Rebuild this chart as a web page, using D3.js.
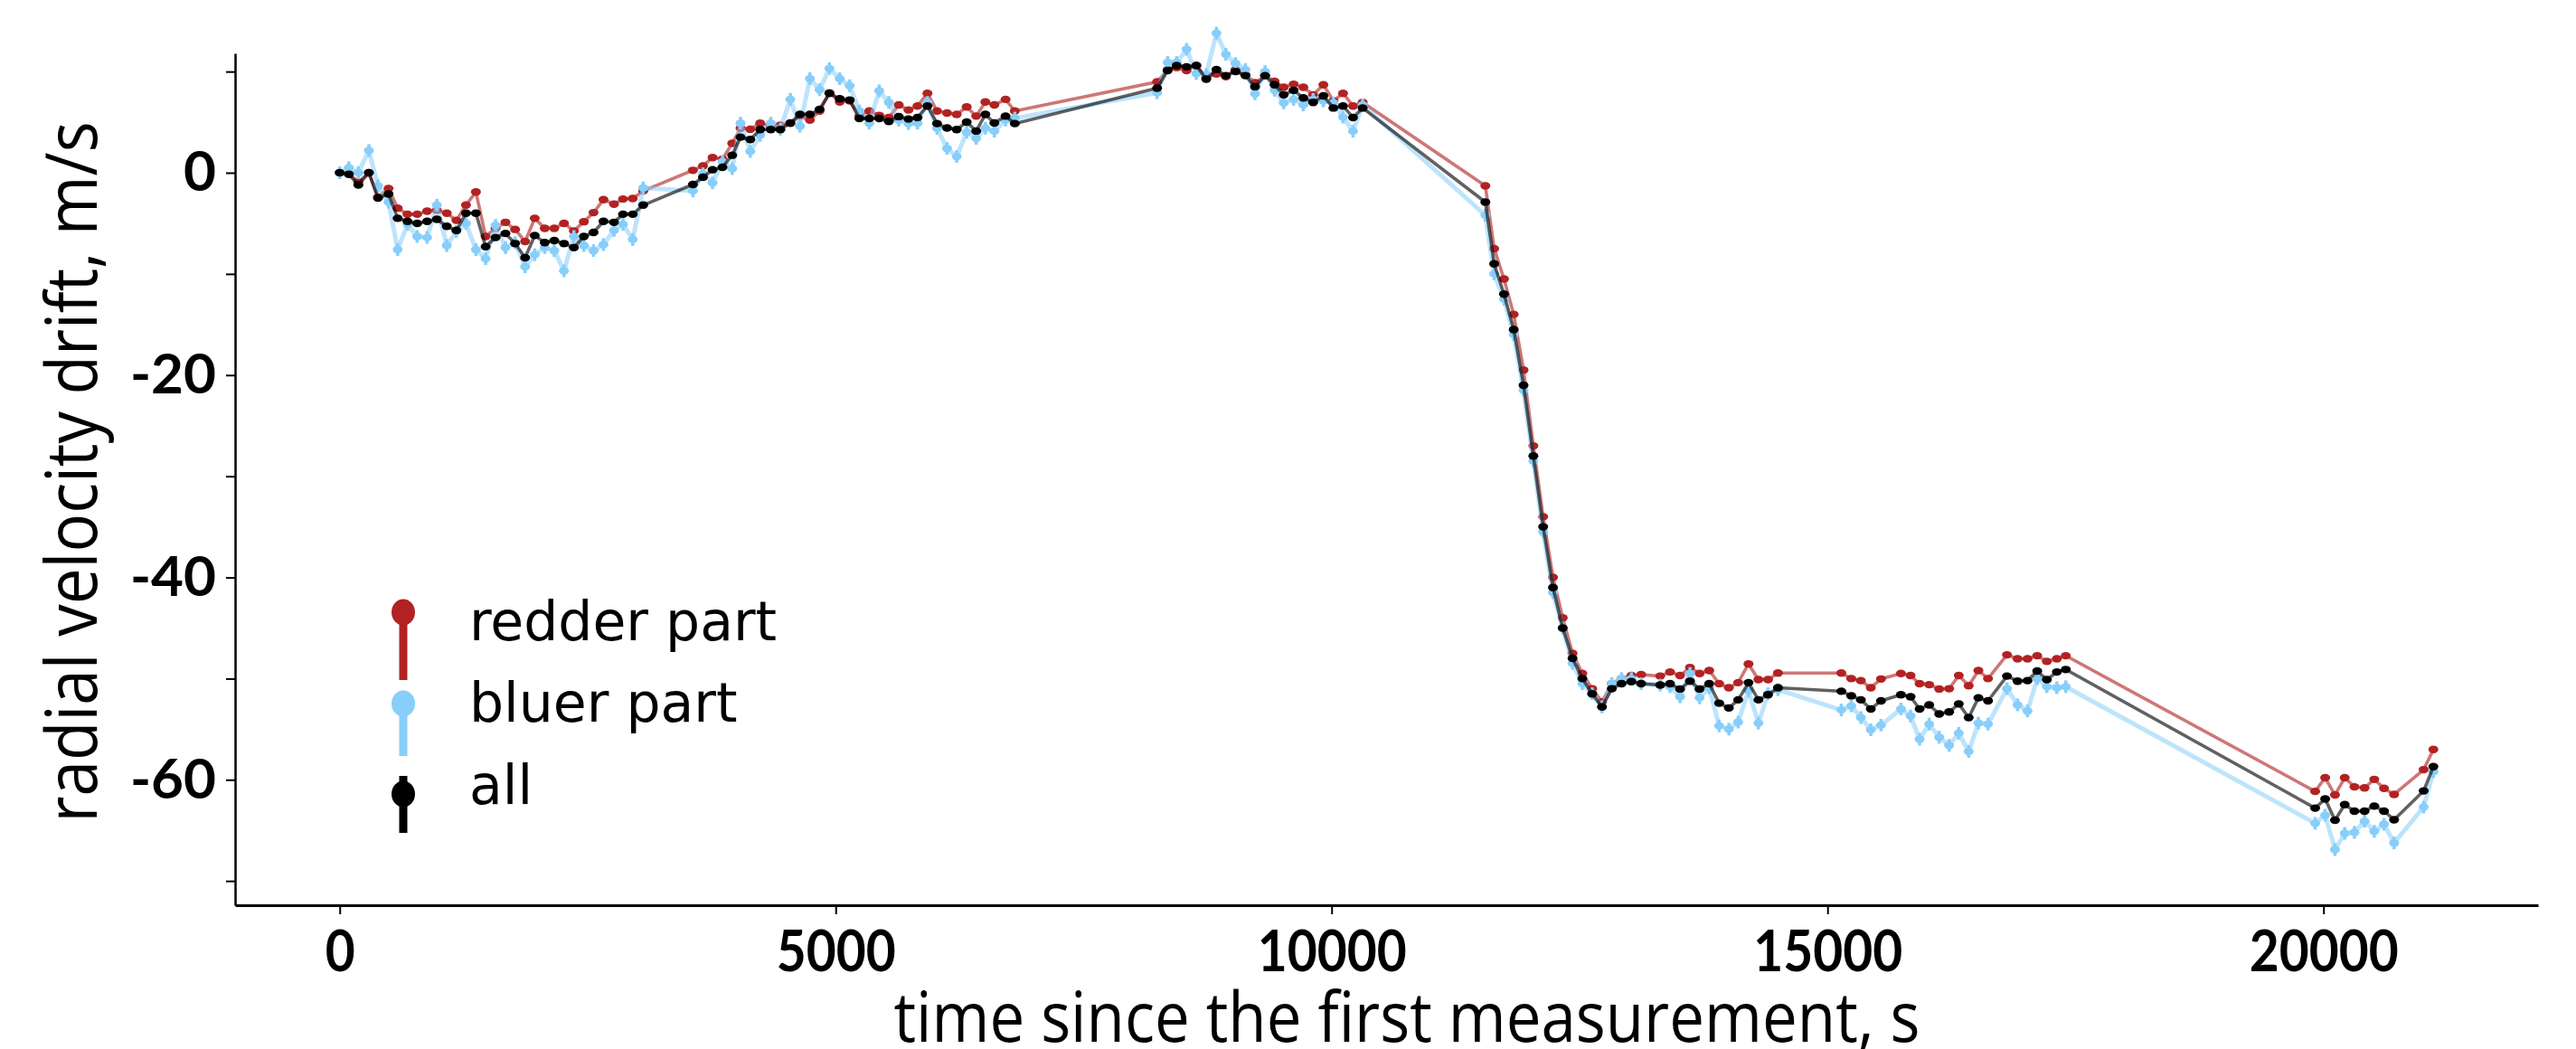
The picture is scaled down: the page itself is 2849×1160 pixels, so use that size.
<!DOCTYPE html>
<html>
<head>
<meta charset="utf-8">
<script src="https://cdn.jsdelivr.net/npm/d3@7"></script>
<style>
    body{ margin:0; background:#fff; }
    .axis path, .axis line{ stroke:#000; }
    .axis text{ font-family:Lato, "Open Sans", sans-serif; fill:#000; }
    .label{ font-family:"Open Sans", sans-serif; fill:#000; }
    .legend text{ font-family:"DejaVu Sans", sans-serif; fill:#000; }
</style>
</head>
<body>
<div id="container"></div>
<script>
// time since the first measurement, s (shared by all three series)
var time = [
    0, 92, 188, 294, 386, 492, 584, 683, 781, 881, 979, 1079, 1176, 1273, 1373, 1471, 1571, 1671, 1768, 1869,
    1966, 2067, 2163, 2261, 2361, 2461, 2559, 2659, 2765, 2856, 2954, 3060,
    3561, 3662, 3759, 3859, 3957, 4041, 4139, 4239, 4346, 4442, 4543, 4640, 4740, 4838, 4937, 5041, 5141, 5239,
    5339, 5439, 5536, 5636, 5734, 5825, 5925, 6022, 6123, 6220, 6321, 6417, 6509, 6600, 6713, 6806,
    8241, 8347, 8438, 8538, 8636, 8736, 8839, 8934, 9031, 9131, 9228, 9329, 9425, 9517, 9617, 9715, 9814, 9917,
    10018, 10115, 10216, 10313,
    11550, 11639, 11738, 11836, 11935, 12034, 12133, 12232, 12330, 12429, 12528, 12627, 12726, 12825, 12923, 13022, 13121,
    13313, 13412, 13513, 13613, 13710, 13807, 13907, 14005, 14099, 14203, 14303, 14400, 14500,
    15139, 15239, 15336, 15436, 15539, 15740, 15837, 15928, 16025, 16126, 16226, 16323, 16423, 16521, 16618,
    16809, 16916, 17016, 17114, 17211, 17312, 17402,
    19916, 20017, 20116, 20214, 20312, 20414, 20512, 20610, 20712, 21010, 21108
];

// radial velocity drift, m/s
var redder = [
    0, -0.1, -0.9, 0, -2.4, -1.55, -3.5, -4.1, -4.1, -3.8, -3.7, -4.0, -4.7, -3.2, -1.9, -6.3, -5.5, -4.9, -5.6, -6.8,
    -4.5, -5.5, -5.5, -5.0, -5.75, -4.84, -3.94, -2.66, -3.1, -2.6, -2.55, -1.8,
    0.24, 0.68, 1.5, 1.35, 2.9, 4.4, 4.3, 4.9, 4.6, 4.7, 4.9, 5.6, 5.2, 6.1, 7.9, 7.0, 7.1, 5.6,
    6.1, 5.67, 5.46, 6.7, 6.2, 6.6, 7.85, 6.1, 5.9, 5.76, 6.5, 5.6, 7.0, 6.7, 7.25, 6.1,
    8.98, 10.2, 10.4, 10.1, 10.6, 9.4, 9.76, 9.5, 10.2, 9.7, 8.9, 9.6, 9.04, 8.45, 8.75, 8.45, 7.7, 8.7,
    7.1, 7.85, 6.6, 6.95,
    -1.3, -7.5, -10.5, -14, -19.5, -27, -34, -40, -44, -47.5, -49.5, -51, -52.3, -50.5, -50, -49.7, -49.6,
    -49.75, -49.35, -49.7, -48.9, -49.5, -49.2, -50.5, -50.9, -50.4, -48.55, -50.1, -50.1, -49.45,
    -49.45, -50.0, -50.2, -50.9, -50.04, -49.5, -49.7, -50.5, -50.6, -51.03, -51.0, -49.7, -50.7, -49.2, -50.0,
    -47.65, -48.04, -48.04, -47.74, -48.3, -48.04, -47.74,
    -61.15, -59.8, -61.5, -59.8, -60.7, -60.8, -59.96, -60.85, -61.45, -59.0, -57.0
];

var bluer = [
    0, 0.5, 0, 2.2, -1.3, -2.9, -7.6, -5.1, -6.3, -6.4, -3.2, -7.2, -5.8, -5.0, -7.6, -8.5, -5.2, -7.4, -6.9, -9.3,
    -8.1, -7.4, -7.7, -9.7, -6.3, -7.2, -7.7, -7.1, -5.7, -5.1, -6.6, -1.5,
    -1.8, -0.1, -1.0, 1.1, 0.4, 4.9, 2.1, 3.7, 4.9, 4.3, 7.25, 4.6, 9.3, 8.2, 10.3, 9.3, 8.6, 6.1,
    4.9, 8.1, 6.95, 5.2, 4.86, 4.9, 6.95, 4.4, 2.4, 1.6, 4.0, 3.4, 4.4, 4.1, 5.2, 5.4,
    7.9, 10.9, 10.9, 12.2, 9.8, 9.7, 13.8, 11.7, 10.8, 10.2, 7.8, 10.0, 8.15, 6.9, 7.25, 6.7, 7.25, 7.1,
    6.9, 5.5, 4.1, 6.7,
    -4.2, -10, -12.5, -16, -21.5, -28.5, -35.5, -41.5, -45, -48.5, -50.5, -51.5, -52.8, -50.5, -50, -50, -50.5,
    -50.64, -50.8, -51.8, -49.5, -51.9, -50.9, -54.67, -55.0, -54.3, -51.2, -54.4, -51.5, -51.1,
    -53.1, -52.7, -53.85, -55.06, -54.6, -53.0, -53.7, -56.0, -54.5, -55.8, -56.6, -55.4, -57.2, -54.4, -54.5,
    -51.0, -52.6, -53.2, -50.0, -50.8, -50.9, -50.8,
    -64.3, -63.5, -66.9, -65.3, -65.2, -64.1, -65.1, -64.4, -66.25, -62.7, -59.2
];

var allParts = [
    0, -0.15, -1.2, 0, -2.5, -2.1, -4.5, -4.8, -5.0, -4.8, -4.6, -5.3, -5.7, -4.0, -4.0, -7.3, -6.4, -6.0, -7.0, -8.4,
    -6.2, -6.9, -6.7, -7.0, -7.4, -6.3, -5.9, -4.8, -4.9, -4.1, -4.1, -3.2,
    -1.16, -0.45, 0.3, 0.54, 1.73, 3.52, 3.28, 4.27, 4.27, 4.27, 4.92, 5.76, 5.76, 6.27, 7.85, 7.31, 7.19, 5.37,
    5.37, 5.37, 5.07, 5.55, 5.31, 5.46, 6.6, 4.86, 4.42, 4.27, 5.01, 4.12, 5.76, 4.92, 5.6, 4.86,
    8.36, 10.1, 10.6, 10.47, 10.6, 9.25, 10.2, 9.6, 10.0, 9.6, 8.5, 9.6, 8.7, 7.7, 8.15, 7.4, 6.95, 7.6,
    6.4, 6.6, 5.46, 6.4,
    -2.9, -9, -12, -15.5, -21, -28, -35, -41, -45, -48, -50, -51.5, -52.8, -51, -50.5, -50.3, -50.5,
    -50.64, -50.5, -51.03, -50.25, -51.03, -50.5, -52.43, -52.9, -52.1, -50.4, -52.1, -51.6, -50.9,
    -51.25, -51.7, -52.1, -53.0, -52.2, -51.6, -51.8, -53.0, -52.6, -53.5, -53.3, -52.5, -53.85, -51.9, -52.2,
    -49.75, -50.25, -50.2, -49.25, -50.1, -49.35, -49.1,
    -62.8, -61.9, -64.0, -62.46, -63.1, -63.1, -62.6, -63.1, -63.95, -61.1, -58.7
];

var seriesNames = ["redder part", "bluer part", "all"];
var xTicks = [0, 5000, 10000, 15000, 20000];
var yTicks = [-70, -60, -50, -40, -30, -20, -10, 0, 10];
var yTickLabels = [-60, -40, -20, 0];

var W = 2849, H = 1160;
var svg = d3.select("#container").append("svg")
    .attr("width", W).attr("height", H);

var x = d3.scaleLinear().domain([-1055, 22163]).range([260, 2807]);
var y = d3.scaleLinear().domain([-72.4, 11.8]).range([1001, 59]);

// series styles, drawn in legend order
var styles = [
    {values: redder, color: "#b22222", lineOpacity: 0.62, lineWidth: 3.6, err: false},
    {values: bluer, color: "#87cefa", lineOpacity: 0.55, lineWidth: 5, err: true},
    {values: allParts, color: "#000000", lineOpacity: 0.62, lineWidth: 3.6, err: false}
];

var line = d3.line()
    .x(function(d){ return x(d.t); })
    .y(function(d){ return y(d.v); });

styles.forEach(function(s){
    var pts = time.map(function(t, i){ return {t: t, v: s.values[i]}; });
    var g = svg.append("g");
    g.append("path").datum(pts)
        .attr("d", line)
        .attr("fill", "none")
        .attr("stroke", s.color)
        .attr("stroke-opacity", s.lineOpacity)
        .attr("stroke-width", s.lineWidth)
        .attr("stroke-linejoin", "round");
    if(s.err){
        g.selectAll(".err").data(pts)
            .enter().append("line")
            .attr("class", "err")
            .attr("x1", function(d){ return x(d.t); })
            .attr("x2", function(d){ return x(d.t); })
            .attr("y1", function(d){ return y(d.v) - 7; })
            .attr("y2", function(d){ return y(d.v) + 7; })
            .attr("stroke", s.color)
            .attr("stroke-width", 3.5);
    }
    g.selectAll("ellipse").data(pts)
        .enter().append("ellipse")
        .attr("cx", function(d){ return x(d.t); })
        .attr("cy", function(d){ return y(d.v); })
        .attr("rx", 5.5)
        .attr("ry", 4.2)
        .attr("fill", s.color);
});

// axes
var yAxis = d3.axisLeft(y)
    .tickValues(yTicks)
    .tickSize(10)
    .tickSizeOuter(0)
    .tickPadding(11)
    .tickFormat(function(d){ return yTickLabels.indexOf(d) >= 0 ? String(d) : ""; });

var gy = svg.append("g").attr("class", "axis")
    .attr("transform", "translate(260,0)")
    .call(yAxis);
gy.select(".domain").attr("stroke-width", 2.5);
gy.selectAll(".tick line").attr("stroke-width", 2);
gy.selectAll(".tick text").attr("font-size", 62).attr("font-weight", 700);

var xAxis = d3.axisBottom(x)
    .tickValues(xTicks)
    .tickSize(10)
    .tickSizeOuter(0)
    .tickPadding(18)
    .tickFormat(function(d){ return String(d); });

var gx = svg.append("g").attr("class", "axis")
    .attr("transform", "translate(0,1001)")
    .call(xAxis);
gx.select(".domain").attr("stroke-width", 3);
gx.selectAll(".tick line").attr("stroke-width", 2);
gx.selectAll(".tick text").attr("font-size", 64).attr("font-weight", 700)
    .attr("textLength", function(d){ return String(d).length * 33; })
    .attr("lengthAdjust", "spacingAndGlyphs");

// axis labels
svg.append("text").attr("class", "label")
    .attr("x", 1556).attr("y", 1152)
    .attr("text-anchor", "middle")
    .attr("font-size", 76)
    .attr("textLength", 1135)
    .attr("lengthAdjust", "spacingAndGlyphs")
    .text("time since the first measurement, s");

svg.append("text").attr("class", "label")
    .attr("transform", "translate(107,522) rotate(-90)")
    .attr("text-anchor", "middle")
    .attr("font-size", 78)
    .attr("textLength", 775)
    .attr("lengthAdjust", "spacingAndGlyphs")
    .text("radial velocity drift, m/s");

// legend (errorbar style handles)
var legendRows = [
    {dot: 677, bar: [677, 752], text: 708},
    {dot: 778, bar: [778, 836], text: 798},
    {dot: 878, bar: [858, 921], text: 889}
];
var lg = svg.append("g").attr("class", "legend");
legendRows.forEach(function(r, i){
    lg.append("line")
        .attr("x1", 446).attr("x2", 446)
        .attr("y1", r.bar[0]).attr("y2", r.bar[1])
        .attr("stroke", styles[i].color)
        .attr("stroke-width", 9);
    lg.append("ellipse")
        .attr("cx", 446).attr("cy", r.dot)
        .attr("rx", 13).attr("ry", 14.5)
        .attr("fill", styles[i].color);
    lg.append("text")
        .attr("x", 519).attr("y", r.text)
        .attr("font-size", 60)
        .text(seriesNames[i]);
});
</script>
</body>
</html>
